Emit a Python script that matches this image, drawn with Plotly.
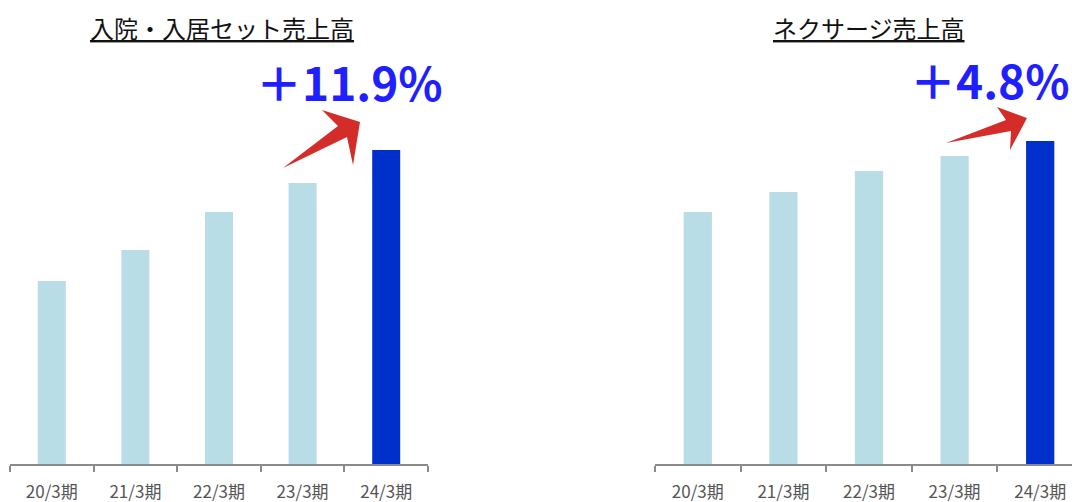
import plotly.graph_objects as go

W, H = 1072, 502
PLOT_BOTTOM = 464  # pixel y of the x axis line

categories = ["20/3期", "21/3期", "22/3期", "23/3期", "24/3期"]
left_values = [183, 214, 252, 281, 314]
right_values = [252, 272, 293, 308, 323]
left_title = "入院・入居セット売上高"
right_title = "ネクサージ売上高"
left_growth = "＋11.9%"
right_growth = "＋4.8%"

LIGHT = "#b8dde7"
DARK = "#0030cc"
bar_colors = [LIGHT, LIGHT, LIGHT, LIGHT, DARK]


def px(x):
    return x / W


def py(y):
    return (PLOT_BOTTOM - y) / PLOT_BOTTOM


fig = go.Figure()
fig.add_trace(go.Bar(x=categories, y=left_values, marker_color=bar_colors,
                     marker_line_width=0, width=0.335, xaxis="x", yaxis="y",
                     showlegend=False, hoverinfo="skip"))
fig.add_trace(go.Bar(x=categories, y=right_values, marker_color=bar_colors,
                     marker_line_width=0, width=0.33, xaxis="x2", yaxis="y2",
                     showlegend=False, hoverinfo="skip"))

xcommon = dict(
    type="category", showgrid=False, zeroline=False, showline=True,
    linecolor="#8a8a8a", linewidth=2, ticks="outside", tickson="boundaries",
    ticklen=6, tickwidth=1.5, tickcolor="#8a8a8a",
    tickfont=dict(family="Noto Sans CJK JP", size=17, color="#555555"),
    ticklabelstandoff=12, automargin=False, fixedrange=True,
)
ycommon = dict(range=[0, PLOT_BOTTOM], visible=False, showgrid=False,
               zeroline=False, fixedrange=True)

fig.update_layout(
    width=W, height=H,
    margin=dict(l=0, r=0, t=0, b=H - PLOT_BOTTOM),
    paper_bgcolor="white", plot_bgcolor="white",
    xaxis=dict(domain=[px(10), px(428)], range=[-0.5, 4.5], anchor="y", **xcommon),
    yaxis=dict(domain=[0, 1], anchor="x", **ycommon),
    xaxis2=dict(domain=[px(655), 1.0], range=[-0.5, 4.5 - 11 / 85.6], anchor="y2", **xcommon),
    yaxis2=dict(domain=[0, 1], anchor="x2", **ycommon),
    bargap=0.6,
)


def arrow_path(pts):
    s = "M " + " L ".join(f"{px(x):.5f},{py(y):.5f}" for x, y in pts) + " Z"
    return s


left_arrow = [(283, 168), (338, 126), (322, 110), (360, 122), (353, 165), (347, 137)]
right_arrow = [(946, 143), (1006, 120), (997, 107), (1027, 118), (1010, 150), (1011, 131)]
for pts in (left_arrow, right_arrow):
    fig.add_shape(type="path", path=arrow_path(pts), xref="paper", yref="paper",
                  fillcolor="#d42c28", line=dict(width=0), layer="above")

title_font = dict(family="Noto Sans CJK JP", size=24, color="#111111")
fig.add_annotation(text=f"<u>{left_title}</u>", x=px(222), y=py(28), xref="paper", yref="paper",
                   showarrow=False, font=title_font, xanchor="center", yanchor="middle")
fig.add_annotation(text=f"<u>{right_title}</u>", x=px(869), y=py(28), xref="paper", yref="paper",
                   showarrow=False, font=title_font, xanchor="center", yanchor="middle")

growth_font = dict(family="Noto Sans CJK JP", size=46, color="#1f1fff", weight="bold")
fig.add_annotation(text=left_growth, x=px(349), y=py(81), xref="paper", yref="paper",
                   showarrow=False, font=growth_font, xanchor="center", yanchor="middle")
fig.add_annotation(text=right_growth, x=px(990), y=py(79), xref="paper", yref="paper",
                   showarrow=False, font=growth_font, xanchor="center", yanchor="middle")

fig.write_html("out.html", config={"displayModeBar": False},
               post_script="document.body.style.margin='0';document.body.style.padding='0';")
